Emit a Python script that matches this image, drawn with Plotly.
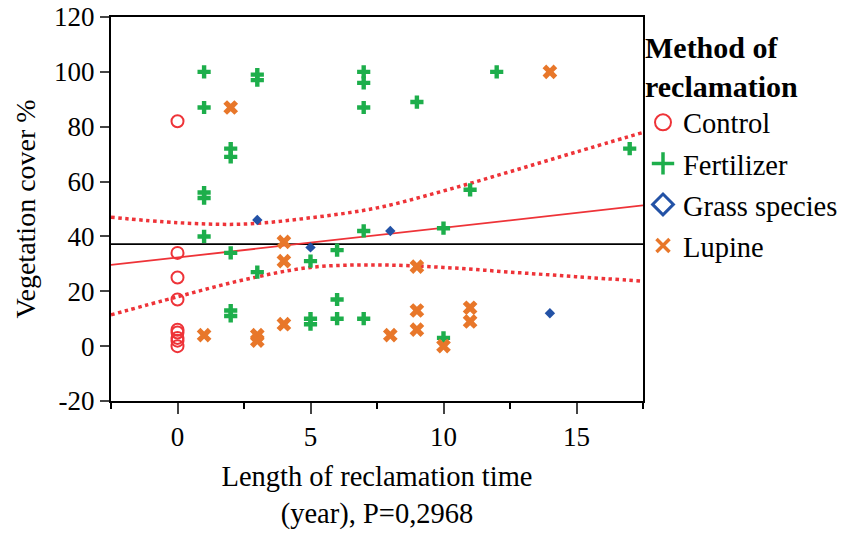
import plotly.graph_objects as go

# ---- data ----
control_x = [0, 0, 0, 0, 0, 0, 0, 0, 0]
control_y = [82, 34, 25, 17, 6, 5, 3, 2, 0]

fert_x = [1, 1, 1, 1, 1, 2, 2, 2, 2, 2, 3, 3, 3, 5, 5, 5, 6, 6, 6,
          7, 7, 7, 7, 7, 9, 10, 10, 11, 12, 17]
fert_y = [100, 87, 56, 54, 40, 72, 69, 34, 13, 11, 99, 97, 27, 31, 10, 8, 35, 17, 10,
          100, 96, 87, 42, 10, 89, 43, 3, 57, 100, 72]

grass_x = [3, 5, 8, 14]
grass_y = [46, 36, 42, 12]

lupine_x = [1, 2, 3, 3, 4, 4, 4, 8, 9, 9, 9, 10, 11, 11, 14]
lupine_y = [4, 87, 4, 2, 38, 31, 8, 4, 29, 13, 6, 0, 14, 9, 100]

fit_x = [-2.5, 17.5]
fit_y = [29.6, 51.3]
mean_y = 37.2

band_x = [-2.5, 0, 2.5, 5, 7.5, 10, 12.5, 15, 17.5]
band_upper = [47.0, 45.0, 44.5, 46.8, 50.4, 56.6, 63.6, 70.8, 77.9]
band_lower = [11.4, 18.0, 24.2, 28.7, 29.6, 28.7, 27.0, 25.3, 23.7]

x_ticks = [0, 5, 10, 15]
y_ticks = [-20, 0, 20, 40, 60, 80, 100, 120]
y_tick_text = ["-20", "0", "20", "40", "60", "80", "100", "120"]

RED = "#EE3338"
GREEN = "#1DAE4B"
BLUE = "#2352A6"
ORANGE = "#E8772A"
FONT = "Liberation Serif"

fig = go.Figure()

# confidence band and lines
fig.add_trace(go.Scatter(x=band_x, y=band_upper, mode="lines", line=dict(color=RED, width=3.5, dash="dot", shape="spline"),
                         showlegend=False, hoverinfo="skip"))
fig.add_trace(go.Scatter(x=band_x, y=band_lower, mode="lines", line=dict(color=RED, width=3.5, dash="dot", shape="spline"),
                         showlegend=False, hoverinfo="skip"))
fig.add_trace(go.Scatter(x=[band_x[0], band_x[-1]], y=[mean_y, mean_y], mode="lines", line=dict(color="black", width=1.8),
                         showlegend=False, hoverinfo="skip"))
fig.add_trace(go.Scatter(x=fit_x, y=fit_y, mode="lines", line=dict(color=RED, width=1.8),
                         showlegend=False, hoverinfo="skip"))

# data markers
fig.add_trace(go.Scatter(x=control_x, y=control_y, mode="markers",
                         marker=dict(symbol="circle-open", size=12, color=RED, line=dict(width=2)), showlegend=False))
fig.add_trace(go.Scatter(x=fert_x, y=fert_y, mode="markers",
                         marker=dict(symbol="cross", size=11, color=GREEN, line=dict(width=0)), showlegend=False))
fig.add_trace(go.Scatter(x=grass_x, y=grass_y, mode="markers",
                         marker=dict(symbol="diamond", size=8, color=BLUE, line=dict(width=0)), showlegend=False))
fig.add_trace(go.Scatter(x=lupine_x, y=lupine_y, mode="markers",
                         marker=dict(symbol="x", size=13, color=ORANGE, line=dict(width=0)), showlegend=False))

# legend entries
fig.add_trace(go.Scatter(x=[None], y=[None], mode="markers", name="Control", legendgroup="a",
                         marker=dict(symbol="circle-open", size=16, color=RED, line=dict(width=2))))
fig.add_trace(go.Scatter(x=[None], y=[None], mode="markers", name="Fertilizer", legendgroup="b",
                         marker=dict(symbol="cross-thin-open", size=16, color=GREEN, line=dict(width=3.5))))
fig.add_trace(go.Scatter(x=[None], y=[None], mode="markers", name="Grass species", legendgroup="c",
                         marker=dict(symbol="diamond-open", size=16, color=BLUE, line=dict(width=3))))
fig.add_trace(go.Scatter(x=[None], y=[None], mode="markers", name="Lupine", legendgroup="d",
                         marker=dict(symbol="x-thin-open", size=13, color=ORANGE, line=dict(width=3.5))))

fig.update_layout(
    width=842, height=536,
    margin=dict(l=111, r=199, t=17, b=135, autoexpand=False),
    paper_bgcolor="white", plot_bgcolor="white",
    font=dict(family=FONT, size=27, color="black"),
    showlegend=True,
    legend=dict(x=1.0, xanchor="left", y=0.994, yanchor="top", bgcolor="rgba(0,0,0,0)",
                title=dict(text="<b>Method of<br>reclamation</b>", font=dict(family=FONT, size=30)),
                font=dict(family=FONT, size=28.5), itemsizing="trace", itemwidth=30, tracegroupgap=1),
)
fig.update_xaxes(range=[-2.5, 17.5], tickvals=x_ticks, ticks="outside", ticklen=11, tickwidth=2,
                 showline=True, linecolor="black", linewidth=2, mirror=True, showgrid=False, zeroline=False,
                 minor=dict(dtick=2.5, tick0=-2.5, ticks="outside", ticklen=6, tickwidth=2, tickcolor="black", showgrid=False),
                 title=dict(text="Length of reclamation time<br>(year), P=0,2968", font=dict(size=28.5), standoff=15),
                 tickfont=dict(size=27))
fig.update_yaxes(range=[-20, 120], tickvals=y_ticks, ticktext=y_tick_text, ticks="outside", ticklen=9, tickwidth=2,
                 showline=True, linecolor="black", linewidth=2, mirror=True, showgrid=False, zeroline=False,
                 title=dict(text="Vegetation cover %", font=dict(size=28), standoff=10),
                 tickfont=dict(size=27))

fig.write_html("out.html")
